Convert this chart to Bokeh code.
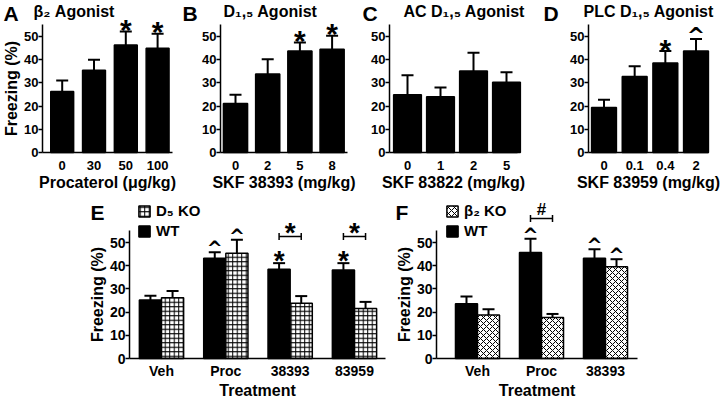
from bokeh.plotting import figure
from bokeh.models import (ColumnDataSource, FixedTicker, Label, Legend, LegendItem,
                          Whisker, TeeHead, Range1d)
from bokeh.layouts import row, column
from bokeh.core.properties import value
from bokeh.embed import file_html
from bokeh.resources import INLINE

FONT = "Liberation Sans"
CARET_FONT = "DejaVu Sans"

# ---------------- data ----------------
a_doses = ["0", "30", "50", "100"]
a_mean = [26.3, 35.5, 46.3, 44.9]
a_upper = [31.0, 40.0, 52.2, 51.2]
a_sig = ["", "", "*", "*"]

b_doses = ["0", "2", "5", "8"]
b_mean = [21.1, 33.8, 43.7, 44.5]
b_upper = [24.9, 40.2, 47.4, 50.3]
b_sig = ["", "", "*", "*"]

c_doses = ["0", "1", "2", "5"]
c_mean = [24.9, 24.0, 35.1, 30.3]
c_upper = [33.3, 28.0, 43.0, 34.6]
c_sig = ["", "", "", ""]

d_doses = ["0", "0.1", "0.4", "2"]
d_mean = [19.4, 32.8, 38.6, 43.7]
d_upper = [22.7, 37.2, 43.7, 48.9]
d_sig = ["", "", "*", "^"]

e_treat = ["Veh", "Proc", "38393", "83959"]
e_wt_mean = [25.2, 43.2, 38.5, 38.2]
e_wt_upper = [27.1, 45.8, 41.1, 41.1]
e_ko_mean = [26.2, 45.4, 23.8, 21.6]
e_ko_upper = [29.1, 51.2, 26.9, 24.4]
e_wt_sig = ["", "^", "*", "*"]
e_ko_sig = ["", "^", "", ""]
e_bracket_groups = [2, 3]
e_bracket_y = 52.6
e_bracket_mark = "*"

f_treat = ["Veh", "Proc", "38393"]
f_wt_mean = [23.6, 45.7, 43.2]
f_wt_upper = [26.7, 51.6, 47.1]
f_ko_mean = [18.7, 17.7, 39.6]
f_ko_upper = [21.2, 19.2, 42.8]
f_wt_sig = ["", "^", "^"]
f_ko_sig = ["", "", "^"]
f_bracket_groups = [1]
f_bracket_y = 60.3
f_bracket_mark = "#"

yticks = [0, 10, 20, 30, 40, 50]
Y_AXIS_TOP = 55

# ---------------- layout helpers (pixel geometry of each panel) ----------------
PPU = 2.32  # pixels per freezing-% unit


def make_fig(fig_left, fig_w, fig_top, fig_h, zero_y, c0, spacing):
    """Figure whose frame fills the whole canvas; bar index 0 sits at page x c0."""
    xr = Range1d((fig_left - c0) / spacing, (fig_left + fig_w - c0) / spacing)
    yr = Range1d(-(fig_top + fig_h - zero_y) / PPU, (zero_y - fig_top) / PPU)
    p = figure(width=fig_w, height=fig_h, x_range=xr, y_range=yr,
               output_backend="svg", toolbar_location=None,
               min_border_left=0, min_border_right=0, min_border_top=0,
               min_border_bottom=0)
    p.outline_line_color = None
    p.grid.visible = False
    p.background_fill_color = "white"
    p.border_fill_color = "white"
    return p


def style_axes(p, cats, axis_x, end_x, xlabel, ylabel, tick_size, xl_size,
               x_standoff, xl_standoff):
    xa = p.xaxis[0]
    xa.fixed_location = 0
    xa.bounds = (axis_x, end_x)
    xa.ticker = FixedTicker(ticks=list(range(len(cats))))
    xa.major_label_overrides = {i: c for i, c in enumerate(cats)}
    xa.major_tick_line_color = None
    xa.minor_tick_line_color = None
    xa.major_tick_out = 0
    xa.major_tick_in = 0
    xa.major_label_standoff = x_standoff
    xa.axis_line_width = 1.5
    xa.axis_line_color = "black"
    xa.major_label_text_font = FONT
    xa.major_label_text_font_style = "bold"
    xa.major_label_text_font_size = tick_size
    xa.major_label_text_color = "black"
    xa.axis_label = xlabel
    xa.axis_label_text_font = FONT
    xa.axis_label_text_font_style = "bold"
    xa.axis_label_text_font_size = xl_size
    xa.axis_label_text_color = "black"
    xa.axis_label_standoff = xl_standoff
    ya = p.yaxis[0]
    ya.fixed_location = axis_x
    ya.ticker = FixedTicker(ticks=yticks)
    ya.bounds = (0, Y_AXIS_TOP)
    ya.axis_line_width = 1.5
    ya.axis_line_color = "black"
    ya.major_tick_line_width = 1.5
    ya.major_tick_out = 4
    ya.major_tick_in = 0
    ya.minor_tick_line_color = None
    ya.major_label_standoff = 0
    ya.major_label_text_font = FONT
    ya.major_label_text_font_style = "bold"
    ya.major_label_text_font_size = tick_size
    ya.major_label_text_color = "black"
    ya.axis_label = ylabel
    ya.axis_label_text_font = FONT
    ya.axis_label_text_font_style = "bold"
    ya.axis_label_text_font_size = "16px"
    ya.axis_label_text_color = "black"
    ya.axis_label_standoff = 1


def add_bars(p, xs, mean, upper, width, fill, hatch=None, hatch_scale=4.5):
    src = ColumnDataSource(dict(x=xs, top=mean, upper=upper))
    kw = {}
    if hatch:
        kw = dict(hatch_pattern=hatch, hatch_color="black", hatch_scale=hatch_scale,
                  hatch_weight=1)
    r = p.vbar(x="x", top="top", bottom=0, width=width, source=src,
               fill_color=fill, line_color="black", line_width=1.5, **kw)
    w = Whisker(source=src, base="x", lower="top", upper="upper", dimension="height",
                line_color="black", line_width=2, level="glyph",
                upper_head=TeeHead(size=12, line_color="black", line_width=2),
                lower_head=None)
    p.add_layout(w)
    return r


def add_marks(p, xs, upper, sig, star_size, star_off, caret_size, caret_off):
    sx = [x for x, s in zip(xs, sig) if s == "*"]
    sy = [u for u, s in zip(upper, sig) if s == "*"]
    cx = [x for x, s in zip(xs, sig) if s == "^"]
    cy = [u for u, s in zip(upper, sig) if s == "^"]
    if sx:
        p.text(x=sx, y=sy, text=["*"] * len(sx), text_font=value(FONT),
               text_font_style="bold", text_font_size=star_size, text_align="center",
               text_baseline="alphabetic", y_offset=star_off, text_color="black")
    if cx:
        p.text(x=cx, y=cy, text=["^"] * len(cx), text_font=value(CARET_FONT),
               text_font_style="bold", text_font_size=caret_size, text_align="center",
               text_baseline="alphabetic", y_offset=caret_off, text_color="black")


def add_label(p, text, sx, y, size):
    # x in canvas pixels, y in data units
    p.add_layout(Label(x=sx, y=y, x_units="screen", y_units="data", text=text,
                       text_font=FONT, text_font_style="bold", text_font_size=size,
                       text_baseline="top", text_align="left", text_color="black"))


def dose_panel(fig_left, fig_w, c0, spacing, axis_px, end_px, cats, mean, upper, sig,
               bw, letter, letter_px, title, title_px, xlabel, ylabel=""):
    p = make_fig(fig_left, fig_w, 0, 200, 152, c0, spacing)
    style_axes(p, cats, (axis_px - c0) / spacing, (end_px - c0) / spacing, xlabel, ylabel,
               "13px", "16px", 8, 1)
    xs = list(range(len(cats)))
    add_bars(p, xs, mean, upper, bw, "black")
    add_marks(p, xs, upper, sig, "30px", -2, "22px", -4)
    add_label(p, letter, letter_px - fig_left, 65.0, "21px")
    add_label(p, title, title_px - fig_left, 64.4, "16px")
    return p


pa = dose_panel(0, 180, 61.7, 31.8, 42, 172, a_doses, a_mean, a_upper, a_sig, 0.72,
                "A", 3, "β₂ Agonist", 33, "Procaterol (μg/kg)", ylabel="Freezing (%)")
pb = dose_panel(180, 181, 235, 32.2, 220, 347, b_doses, b_mean, b_upper, b_sig, 0.75,
                "B", 182, "D₁,₅ Agonist", 223, "SKF 38393 (mg/kg)")
pc = dose_panel(361, 180, 407, 33, 389, 517, c_doses, c_mean, c_upper, c_sig, 0.84,
                "C", 362, "AC D₁,₅ Agonist", 403, "SKF 83822 (mg/kg)")
pd = dose_panel(541, 179, 603.5, 30.67, 588, 708, d_doses, d_mean, d_upper, d_sig, 0.81,
                "D", 543, "PLC D₁,₅ Agonist", 583, "SKF 83959 (mg/kg)")


def geno_panel(fig_left, fig_w, c0, spacing, axis_px, end_px, cats, wt_mean, wt_upper,
               ko_mean, ko_upper, wt_sig, ko_sig, hatch, hatch_scale, ko_label, letter,
               letter_px, br_groups, br_y, br_mark, br_size, br_off, legend_px):
    p = make_fig(fig_left, fig_w, 200, 200, 358, c0, spacing)
    style_axes(p, cats, (axis_px - c0) / spacing, (end_px - c0) / spacing, "Treatment",
               "Freezing (%)", "14px", "16px", 4, 0)
    off = 0.172
    g = list(range(len(cats)))
    wx = [i - off for i in g]
    kx = [i + off for i in g]
    wt_r = add_bars(p, wx, wt_mean, wt_upper, 2 * off, "black")
    ko_r = add_bars(p, kx, ko_mean, ko_upper, 2 * off, "white", hatch, hatch_scale)
    add_marks(p, wx, wt_upper, wt_sig, "28px", -3, "19px", -4)
    add_marks(p, kx, ko_upper, ko_sig, "28px", -3, "19px", -4)
    # significance brackets between genotypes
    bx0 = [i - off for i in br_groups]
    bx1 = [i + off for i in br_groups]
    by = [br_y] * len(br_groups)
    p.segment(x0=bx0, y0=by, x1=bx1, y1=by, line_color="black", line_width=1.5)
    p.segment(x0=bx0 + bx1, y0=[br_y - 1.5] * (2 * len(br_groups)),
              x1=bx0 + bx1, y1=[br_y + 1.5] * (2 * len(br_groups)),
              line_color="black", line_width=1.5)
    p.text(x=list(br_groups), y=by, text=[br_mark] * len(br_groups), text_font=value(FONT),
           text_font_style="bold", text_font_size=br_size, text_align="center",
           text_baseline="alphabetic", y_offset=br_off, text_color="black")
    legend = Legend(items=[LegendItem(label=ko_label, renderers=[ko_r]),
                           LegendItem(label="WT", renderers=[wt_r])],
                    location=(legend_px - fig_left, 161), orientation="vertical",
                    glyph_width=14, glyph_height=14, label_height=14, spacing=3,
                    padding=0, margin=0, label_standoff=5,
                    border_line_color=None, background_fill_alpha=0,
                    label_text_font=FONT, label_text_font_style="bold",
                    label_text_font_size="15px", label_text_color="black")
    p.add_layout(legend)
    add_label(p, letter, letter_px - fig_left, 68.0, "21px")
    return p


pe = geno_panel(0, 390, 161, 64.33, 129, 385, e_treat, e_wt_mean, e_wt_upper, e_ko_mean,
                e_ko_upper, e_wt_sig, e_ko_sig, "cross", 4.5, "D₅ KO", "E", 90,
                e_bracket_groups, e_bracket_y, e_bracket_mark, "28px", -4, 137)
pf = geno_panel(390, 330, 477, 64, 436, 637, f_treat, f_wt_mean, f_wt_upper, f_ko_mean,
                f_ko_upper, f_wt_sig, f_ko_sig, "diagonal_cross", 6, "β₂ KO", "F", 395,
                f_bracket_groups, f_bracket_y, f_bracket_mark, "17px", -9, 445)

layout = column(row(pa, pb, pc, pd), row(pe, pf))

with open("out.html", "w") as fh:
    fh.write(file_html(layout, INLINE))
